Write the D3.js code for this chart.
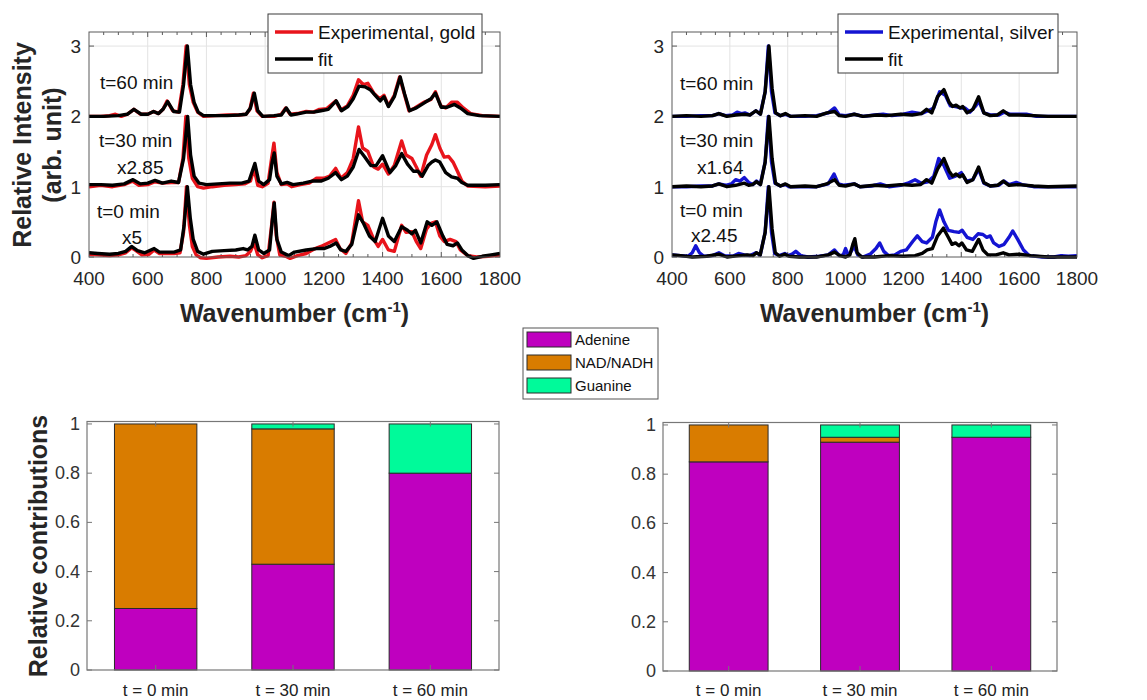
<!DOCTYPE html>
<html>
<head>
<meta charset="utf-8">
<script src="https://cdn.jsdelivr.net/npm/d3@7"></script>
<style>
  html, body { margin: 0; padding: 0; background: #fff; }
  svg { display: block; font-family: "Liberation Sans", Arial, Helvetica, sans-serif; }
</style>
</head>
<body>
<div id="root"></div>
<script>
// ---- data (values above each trace's baseline) ----
const offsets = [0, 1, 2];
const timeLabels = ["t=0 min", "t=30 min", "t=60 min"];
const goldFactors = ["x5", "x2.85", ""];
const silverFactors = ["x2.45", "x1.64", ""];
const xTicks = [400, 600, 800, 1000, 1200, 1400, 1600, 1800];
const yTicks = [0, 1, 2, 3];

const goldExp0 = [[400,0.04],[430,0.03],[470,0.02],[500,0.03],[525,0.06],[545,0.13],[560,0.09],[580,0.03],[605,0.04],[622,0.1],[640,0.05],[665,0.05],[690,0.05],[710,0.06],[722,0.35],[732,1.0],[742,0.45],[752,0.15],[765,0.03],[780,-0.01],[800,-0.02],[840,0.0],[880,0.01],[910,0.0],[935,0.02],[950,0.08],[962,0.2],[975,0.03],[990,-0.01],[1010,0.02],[1022,0.45],[1030,0.78],[1038,0.3],[1050,0.03],[1070,0.01],[1085,-0.02],[1110,0.02],[1140,0.05],[1170,0.12],[1190,0.15],[1215,0.2],[1240,0.25],[1255,0.12],[1275,0.05],[1295,0.2],[1318,0.8],[1332,0.5],[1350,0.45],[1370,0.25],[1385,0.15],[1400,0.25],[1420,0.1],[1440,0.08],[1465,0.45],[1480,0.35],[1500,0.36],[1515,0.22],[1530,0.12],[1550,0.4],[1565,0.48],[1580,0.5],[1595,0.3],[1610,0.22],[1630,0.25],[1650,0.22],[1665,0.1],[1690,0.02],[1720,0.0],[1760,0.01],[1800,0.03]];
const goldFit0 = [[400,0.06],[430,0.05],[470,0.04],[500,0.05],[525,0.08],[545,0.15],[565,0.09],[590,0.06],[622,0.12],[640,0.07],[665,0.07],[690,0.07],[712,0.1],[724,0.45],[735,1.0],[745,0.55],[755,0.25],[770,0.08],[790,0.04],[820,0.08],[860,0.09],[900,0.1],[925,0.12],[940,0.1],[955,0.15],[965,0.31],[978,0.1],[995,0.05],[1015,0.1],[1024,0.5],[1031,0.77],[1040,0.25],[1055,0.07],[1080,0.02],[1100,0.07],[1140,0.1],[1175,0.12],[1200,0.12],[1220,0.15],[1242,0.2],[1258,0.1],[1275,0.08],[1295,0.18],[1318,0.6],[1335,0.48],[1355,0.3],[1375,0.22],[1400,0.55],[1420,0.3],[1440,0.22],[1465,0.43],[1485,0.38],[1500,0.33],[1512,0.38],[1530,0.2],[1552,0.5],[1568,0.45],[1585,0.5],[1605,0.3],[1620,0.18],[1640,0.16],[1655,0.2],[1670,0.1],[1690,0.02],[1710,-0.02],[1740,0.01],[1770,0.03],[1800,0.05]];
const goldExp30 = [[400,0.0],[440,0.02],[480,0.0],[520,0.03],[548,0.08],[570,0.02],[600,0.03],[625,0.07],[650,0.05],[680,0.06],[705,0.06],[720,0.4],[730,1.0],[740,0.4],[752,0.12],[770,0.0],[790,-0.02],[820,0.0],[860,0.02],[900,0.03],[930,0.04],[950,0.08],[962,0.26],[975,0.02],[990,0.0],[1010,0.05],[1022,0.4],[1030,0.62],[1040,0.2],[1055,0.03],[1075,0.04],[1090,0.0],[1120,0.03],[1150,0.05],[1175,0.12],[1200,0.12],[1220,0.15],[1240,0.26],[1258,0.12],[1280,0.2],[1300,0.4],[1318,0.85],[1332,0.55],[1350,0.5],[1370,0.28],[1385,0.25],[1400,0.32],[1420,0.18],[1440,0.3],[1465,0.65],[1480,0.45],[1500,0.4],[1515,0.28],[1530,0.15],[1550,0.45],[1568,0.6],[1580,0.74],[1595,0.55],[1610,0.42],[1625,0.43],[1640,0.35],[1655,0.22],[1670,0.08],[1690,0.01],[1750,0.0],[1800,0.01]];
const goldFit30 = [[400,0.03],[440,0.03],[480,0.02],[520,0.04],[550,0.1],[575,0.04],[600,0.05],[625,0.09],[650,0.05],[680,0.08],[705,0.06],[722,0.4],[736,1.0],[746,0.45],[758,0.15],[775,0.05],[800,0.03],[840,0.04],[880,0.05],[920,0.05],[945,0.08],[965,0.33],[978,0.08],[995,0.03],[1015,0.1],[1024,0.35],[1031,0.48],[1040,0.15],[1055,0.04],[1075,0.06],[1095,0.03],[1130,0.05],[1160,0.08],[1190,0.08],[1215,0.12],[1240,0.2],[1260,0.1],[1280,0.15],[1300,0.28],[1320,0.53],[1340,0.42],[1360,0.3],[1378,0.3],[1400,0.44],[1425,0.2],[1445,0.3],[1465,0.47],[1485,0.32],[1505,0.22],[1520,0.22],[1535,0.15],[1555,0.3],[1568,0.35],[1580,0.38],[1595,0.35],[1615,0.2],[1635,0.14],[1655,0.12],[1670,0.06],[1690,0.02],[1750,0.02],[1800,0.03]];
const goldExp60 = [[400,0.0],[440,0.0],[470,0.01],[490,0.03],[510,0.0],[530,0.03],[553,0.1],[575,0.03],[600,0.03],[620,0.07],[637,0.04],[652,0.1],[666,0.22],[685,0.08],[705,0.06],[720,0.45],[731,1.0],[742,0.45],[755,0.2],[770,0.06],[790,0.0],[830,0.01],[870,0.02],[910,0.02],[935,0.03],[948,0.1],[960,0.33],[972,0.08],[990,0.0],[1030,0.0],[1055,0.03],[1070,0.12],[1085,0.03],[1110,0.04],[1140,0.07],[1165,0.06],[1185,0.1],[1210,0.11],[1240,0.22],[1258,0.09],[1280,0.15],[1300,0.3],[1318,0.52],[1335,0.45],[1350,0.47],[1370,0.33],[1390,0.25],[1405,0.3],[1420,0.15],[1440,0.3],[1458,0.56],[1472,0.35],[1490,0.08],[1510,0.12],[1540,0.2],[1565,0.24],[1580,0.35],[1598,0.15],[1615,0.12],[1635,0.2],[1655,0.2],[1675,0.12],[1700,0.04],[1740,0.01],[1800,0.0]];
const goldFit60 = [[400,0.0],[450,0.0],[500,0.01],[530,0.03],[553,0.1],[578,0.03],[600,0.03],[620,0.07],[637,0.04],[652,0.1],[668,0.21],[688,0.07],[708,0.06],[722,0.45],[735,1.0],[746,0.45],[758,0.2],[772,0.06],[790,0.01],[830,0.01],[870,0.01],[910,0.02],[935,0.03],[950,0.12],[963,0.33],[975,0.08],[992,0.0],[1030,0.01],[1055,0.02],[1072,0.12],[1088,0.02],[1115,0.04],[1140,0.06],[1165,0.06],[1190,0.08],[1215,0.1],[1242,0.22],[1260,0.08],[1282,0.14],[1300,0.25],[1320,0.43],[1340,0.42],[1358,0.38],[1375,0.3],[1392,0.22],[1405,0.28],[1420,0.14],[1440,0.28],[1460,0.56],[1475,0.32],[1492,0.08],[1515,0.12],[1545,0.2],[1565,0.25],[1580,0.33],[1600,0.13],[1620,0.13],[1645,0.17],[1665,0.12],[1690,0.04],[1730,0.01],[1800,0.0]];

const silverExp0 = [[400,0.03],[430,0.02],[455,0.01],[470,0.06],[482,0.16],[495,0.06],[510,0.01],[540,0.02],[562,0.06],[580,0.02],[610,0.01],[630,0.05],[650,0.03],[670,0.02],[690,0.06],[705,0.03],[722,0.35],[733,1.0],[744,0.35],[755,0.05],[770,0.02],[790,0.05],[800,0.02],[815,0.04],[828,0.08],[845,0.02],[870,0.0],[910,0.01],[940,0.03],[962,0.1],[978,0.02],[992,0.03],[1000,0.12],[1010,0.02],[1030,0.15],[1042,0.03],[1060,0.0],[1085,0.04],[1105,0.12],[1118,0.2],[1132,0.08],[1148,0.02],[1170,0.03],[1190,0.08],[1210,0.1],[1232,0.22],[1248,0.3],[1265,0.22],[1280,0.2],[1300,0.28],[1312,0.5],[1325,0.67],[1340,0.5],[1355,0.38],[1375,0.36],[1392,0.35],[1403,0.38],[1420,0.28],[1440,0.25],[1458,0.33],[1475,0.32],[1488,0.28],[1500,0.3],[1512,0.2],[1530,0.15],[1548,0.18],[1565,0.28],[1578,0.37],[1595,0.25],[1615,0.1],[1635,0.02],[1680,0.0],[1720,0.0],[1745,0.02],[1770,0.01],[1800,0.02]];
const silverFit0 = [[400,0.03],[430,0.02],[470,0.0],[520,0.01],[562,0.04],[590,0.0],[630,0.02],[660,0.03],[680,0.02],[692,0.06],[705,0.03],[722,0.35],[735,1.0],[746,0.4],[757,0.06],[772,0.01],[790,0.04],[805,0.01],[840,0.0],[900,0.0],[940,0.03],[962,0.07],[980,0.02],[1000,0.0],[1015,0.03],[1025,0.18],[1032,0.26],[1040,0.06],[1055,0.0],[1100,0.0],[1150,0.02],[1200,0.01],[1240,0.02],[1265,0.05],[1282,0.1],[1300,0.12],[1318,0.3],[1338,0.41],[1355,0.28],[1368,0.18],[1380,0.2],[1392,0.16],[1402,0.2],[1418,0.1],[1438,0.08],[1460,0.25],[1475,0.1],[1492,0.03],[1520,0.03],[1545,0.06],[1565,0.03],[1600,0.04],[1640,0.02],[1700,0.0],[1800,0.0]];
const silverExp30 = [[400,0.0],[450,0.0],[500,0.01],[540,0.01],[562,0.04],[585,0.02],[605,0.04],[620,0.1],[635,0.08],[650,0.13],[665,0.06],[680,0.03],[692,0.08],[705,0.03],[722,0.35],[733,1.0],[744,0.35],[756,0.05],[775,0.01],[792,0.03],[805,0.0],[850,0.0],[900,0.0],[940,0.04],[960,0.18],[975,0.04],[995,0.02],[1030,0.04],[1050,0.0],[1090,0.01],[1120,0.04],[1150,0.0],[1190,0.02],[1215,0.05],[1240,0.1],[1262,0.05],[1285,0.07],[1305,0.15],[1322,0.4],[1340,0.3],[1360,0.12],[1380,0.15],[1400,0.2],[1418,0.08],[1440,0.1],[1460,0.25],[1478,0.05],[1500,0.01],[1530,0.02],[1548,0.08],[1565,0.03],[1590,0.06],[1610,0.03],[1650,0.0],[1700,0.0],[1800,0.0]];
const silverFit30 = [[400,0.0],[450,0.01],[500,0.0],[540,0.01],[562,0.04],[590,0.0],[620,0.02],[650,0.05],[665,0.02],[678,0.03],[692,0.07],[706,0.03],[722,0.35],[735,1.0],[746,0.4],[758,0.05],[775,0.01],[792,0.04],[810,0.0],[860,0.01],[900,0.0],[935,0.04],[962,0.1],[978,0.02],[1000,0.01],[1030,0.04],[1050,0.0],[1100,0.02],[1140,0.01],[1190,0.03],[1230,0.02],[1260,0.03],[1280,0.1],[1298,0.05],[1318,0.25],[1340,0.4],[1358,0.22],[1370,0.15],[1382,0.18],[1395,0.14],[1405,0.17],[1420,0.06],[1440,0.1],[1460,0.28],[1478,0.06],[1500,0.01],[1525,0.02],[1545,0.08],[1565,0.02],[1600,0.03],[1650,0.01],[1700,0.0],[1800,0.01]];
const silverExp60 = [[400,0.0],[450,0.0],[500,0.01],[540,0.01],[562,0.04],[585,0.01],[610,0.02],[625,0.06],[640,0.04],[652,0.05],[670,0.02],[690,0.08],[705,0.03],[722,0.35],[733,1.0],[744,0.35],[756,0.05],[775,0.01],[792,0.03],[810,0.0],[860,0.0],[900,0.01],[940,0.05],[962,0.12],[978,0.02],[1000,0.01],[1030,0.03],[1060,0.0],[1100,0.02],[1130,0.03],[1160,0.01],[1200,0.03],[1230,0.06],[1262,0.04],[1285,0.08],[1305,0.12],[1325,0.35],[1345,0.3],[1362,0.15],[1380,0.14],[1398,0.12],[1412,0.12],[1430,0.06],[1450,0.15],[1460,0.22],[1478,0.05],[1500,0.02],[1530,0.02],[1548,0.06],[1570,0.03],[1600,0.03],[1625,0.03],[1660,0.0],[1720,0.0],[1800,0.0]];
const silverFit60 = [[400,0.0],[450,0.01],[500,0.0],[540,0.01],[562,0.04],[590,0.0],[620,0.02],[650,0.03],[670,0.02],[690,0.08],[706,0.03],[722,0.35],[735,1.0],[746,0.4],[758,0.05],[775,0.01],[792,0.04],[810,0.0],[860,0.01],[900,0.0],[935,0.05],[962,0.07],[978,0.01],[1000,0.0],[1030,0.03],[1060,0.0],[1110,0.02],[1140,0.01],[1190,0.03],[1230,0.02],[1262,0.04],[1280,0.1],[1298,0.05],[1318,0.28],[1340,0.38],[1358,0.2],[1370,0.14],[1382,0.16],[1395,0.12],[1405,0.14],[1420,0.05],[1440,0.1],[1460,0.28],[1478,0.05],[1500,0.01],[1525,0.02],[1545,0.08],[1565,0.02],[1600,0.02],[1650,0.01],[1700,0.0],[1800,0.0]];

// bar chart data
const categories = ["t = 0 min", "t = 30 min", "t = 60 min"];
const components = ["Adenine", "NAD/NADH", "Guanine"];
const componentColors = ["#bf00bf", "#d97c00", "#00fa9a"];
const goldAdenine = [0.25, 0.43, 0.80];
const goldNad = [0.75, 0.55, 0.0];
const goldGuanine = [0.0, 0.02, 0.20];
const silverAdenine = [0.85, 0.93, 0.95];
const silverNad = [0.15, 0.02, 0.0];
const silverGuanine = [0.0, 0.05, 0.05];
const barTicks = [0, 0.2, 0.4, 0.6, 0.8, 1];

const W = 1147, H = 700;
const svg = d3.select("#root").append("svg")
  .attr("width", W).attr("height", H);

const axisColor = "#5a5a5a";
const textColor = "#262626";

// ---- spectra panels ----
const drawSpectra = (opt) => {
  const x = d3.scaleLinear().domain([400, 1800]).range([opt.left, opt.right]);
  const y = d3.scaleLinear().domain([0, 3.2]).range([257, 32]);
  const g = svg.append("g");

  // grid
  g.append("g").selectAll("line").data(xTicks.slice(1, -1)).join("line")
    .attr("x1", d => x(d)).attr("x2", d => x(d))
    .attr("y1", y(0)).attr("y2", y(3.2))
    .attr("stroke", "#e3e3e3").attr("stroke-width", 1);
  g.append("g").selectAll("line").data(yTicks.slice(1)).join("line")
    .attr("x1", x(400)).attr("x2", x(1800))
    .attr("y1", d => y(d)).attr("y2", d => y(d))
    .attr("stroke", "#e3e3e3").attr("stroke-width", 1);

  // minor / major ticks, top & bottom
  const xTickAll = d3.range(450, 1800, 50);
  [y(0), y(3.2)].forEach((yy, k) => {
    const dir = k === 0 ? -1 : 1;
    g.append("g").selectAll("line").data(xTickAll).join("line")
      .attr("x1", d => x(d)).attr("x2", d => x(d))
      .attr("y1", yy)
      .attr("y2", d => yy + dir * (xTicks.includes(d) ? 5 : 3))
      .attr("stroke", axisColor).attr("stroke-width", 1);
  });
  [x(400), x(1800)].forEach((xx, k) => {
    const dir = k === 0 ? 1 : -1;
    g.append("g").selectAll("line").data(yTicks).join("line")
      .attr("x1", xx).attr("x2", xx + dir * 5)
      .attr("y1", d => y(d)).attr("y2", d => y(d))
      .attr("stroke", axisColor).attr("stroke-width", 1);
  });

  const line = d3.line()
    .x(d => x(d[0]))
    .y(d => d[1]);

  const clip = "clip" + opt.id;
  g.append("clipPath").attr("id", clip).append("rect")
    .attr("x", x(400)).attr("y", y(3.2))
    .attr("width", x(1800) - x(400)).attr("height", y(0) - y(3.2) + 4);
  const lines = g.append("g").attr("clip-path", `url(#${clip})`);

  // experimental first, fit drawn on top
  offsets.forEach((off, i) => {
    const toPx = arr => arr.map(p => [p[0], y(p[1] + off)]);
    lines.append("path").datum(toPx(opt.exp[i]))
      .attr("d", line).attr("fill", "none")
      .attr("stroke", opt.color).attr("stroke-width", 3.4)
      .attr("stroke-linejoin", "round");
    lines.append("path").datum(toPx(opt.fit[i]))
      .attr("d", line).attr("fill", "none")
      .attr("stroke", "#000").attr("stroke-width", 3.4)
      .attr("stroke-linejoin", "round");
  });

  // box
  g.append("rect")
    .attr("x", x(400)).attr("y", y(3.2))
    .attr("width", x(1800) - x(400)).attr("height", y(0) - y(3.2))
    .attr("fill", "none").attr("stroke", axisColor).attr("stroke-width", 1);

  // tick labels
  g.append("g").selectAll("text").data(xTicks).join("text")
    .attr("x", d => x(d)).attr("y", 285)
    .attr("text-anchor", "middle").attr("font-size", 19).attr("fill", textColor)
    .text(d => d);
  g.append("g").selectAll("text").data(yTicks).join("text")
    .attr("x", x(400) - 8).attr("y", d => y(d) + 7)
    .attr("text-anchor", "end").attr("font-size", 19).attr("fill", textColor)
    .text(d => d);

  // x label
  const xl = g.append("text")
    .attr("x", (x(400) + x(1800)) / 2).attr("y", 322)
    .attr("text-anchor", "middle").attr("font-size", 25).attr("font-weight", "bold")
    .attr("fill", textColor);
  xl.append("tspan").text("Wavenumber (cm");
  xl.append("tspan").attr("dy", -10).attr("font-size", 15).text("-1");
  xl.append("tspan").attr("dy", 10).text(")");

  // annotations
  opt.labels.forEach(a => {
    g.append("text").attr("x", a.x).attr("y", a.y)
      .attr("font-size", 19).attr("fill", "#111").text(a.t);
  });

  // legend
  const lg = g.append("g");
  lg.append("rect").attr("x", opt.legend.x).attr("y", 14)
    .attr("width", opt.legend.w).attr("height", 59)
    .attr("fill", "#fff").attr("stroke", "#3a3a3a").attr("stroke-width", 1);
  [[opt.color, opt.legend.name, 32], ["#000", "fit", 59]].forEach(r => {
    lg.append("line")
      .attr("x1", opt.legend.x + 7).attr("x2", opt.legend.x + 45)
      .attr("y1", r[2]).attr("y2", r[2])
      .attr("stroke", r[0]).attr("stroke-width", 3.4);
    lg.append("text")
      .attr("x", opt.legend.x + 50).attr("y", r[2] + 7)
      .attr("font-size", 19).attr("fill", "#111").text(r[1]);
  });
};

drawSpectra({
  id: "gold", left: 89, right: 500, color: "#e8141b",
  exp: [goldExp0, goldExp30, goldExp60],
  fit: [goldFit0, goldFit30, goldFit60],
  legend: { x: 268, w: 214, name: "Experimental, gold" },
  labels: [
    { x: 100, y: 89, t: timeLabels[2] },
    { x: 99, y: 147, t: timeLabels[1] },
    { x: 117, y: 174, t: goldFactors[1] },
    { x: 97, y: 218, t: timeLabels[0] },
    { x: 122, y: 244, t: goldFactors[0] }
  ]
});

drawSpectra({
  id: "silver", left: 672, right: 1077, color: "#1414d2",
  exp: [silverExp0, silverExp30, silverExp60],
  fit: [silverFit0, silverFit30, silverFit60],
  legend: { x: 838, w: 220, name: "Experimental, silver" },
  labels: [
    { x: 680, y: 90, t: timeLabels[2] },
    { x: 680, y: 147, t: timeLabels[1] },
    { x: 697, y: 174, t: silverFactors[1] },
    { x: 680, y: 217, t: timeLabels[0] },
    { x: 691, y: 242, t: silverFactors[0] }
  ]
});

// y label for top panels
svg.append("text")
  .attr("transform", "translate(31,145) rotate(-90)")
  .attr("text-anchor", "middle").attr("font-size", 25).attr("font-weight", "bold")
  .attr("fill", textColor).text("Relative Intensity");
svg.append("text")
  .attr("transform", "translate(61,145) rotate(-90)")
  .attr("text-anchor", "middle").attr("font-size", 25).attr("font-weight", "bold")
  .attr("fill", textColor).text("(arb. unit)");

// ---- stacked bar panels ----
const drawBars = (opt) => {
  const table = categories.map((c, i) => ({
    cat: c,
    "Adenine": opt.adenine[i],
    "NAD/NADH": opt.nad[i],
    "Guanine": opt.guanine[i]
  }));
  const series = d3.stack().keys(components)(table);
  const x = d3.scaleLinear().domain([0.5, 3.5]).range([opt.left, opt.right]);
  const y = d3.scaleLinear().domain([0, 1.01]).range([opt.bottom, opt.bottom - 248.5]);
  const bw = 0.6;
  const g = svg.append("g");

  series.forEach((s, k) => {
    g.append("g").selectAll("rect").data(s).join("rect")
      .attr("x", (d, i) => x(i + 1 - bw / 2))
      .attr("width", x(1 + bw) - x(1))
      .attr("y", d => y(d[1]))
      .attr("height", d => y(d[0]) - y(d[1]))
      .attr("fill", componentColors[k])
      .attr("stroke", "#2a2a2a").attr("stroke-width", 1);
  });

  // box
  g.append("rect")
    .attr("x", x(0.5)).attr("y", y(1.01))
    .attr("width", x(3.5) - x(0.5)).attr("height", y(0) - y(1.01))
    .attr("fill", "none").attr("stroke", "#777").attr("stroke-width", 1.2);

  // ticks
  [x(0.5), x(3.5)].forEach((xx, k) => {
    const dir = k === 0 ? 1 : -1;
    g.append("g").selectAll("line").data(barTicks).join("line")
      .attr("x1", xx).attr("x2", xx + dir * 5)
      .attr("y1", d => y(d)).attr("y2", d => y(d))
      .attr("stroke", "#777");
  });
  [y(0), y(1.01)].forEach((yy, k) => {
    const dir = k === 0 ? -1 : 1;
    g.append("g").selectAll("line").data([1, 2, 3]).join("line")
      .attr("x1", d => x(d)).attr("x2", d => x(d))
      .attr("y1", yy).attr("y2", yy + dir * 5)
      .attr("stroke", "#777");
  });

  g.append("g").selectAll("text").data(barTicks).join("text")
    .attr("x", x(0.5) - 7).attr("y", d => y(d) + 6)
    .attr("text-anchor", "end").attr("font-size", 18).attr("fill", "#333")
    .text(d => d);
  g.append("g").selectAll("text").data(categories).join("text")
    .attr("x", (d, i) => x(i + 1)).attr("y", 696)
    .attr("text-anchor", "middle").attr("font-size", 17).attr("fill", "#222")
    .text(d => d);
};

drawBars({ left: 87, right: 499, bottom: 670,
  adenine: goldAdenine, nad: goldNad, guanine: goldGuanine });
drawBars({ left: 663, right: 1057, bottom: 671,
  adenine: silverAdenine, nad: silverNad, guanine: silverGuanine });

svg.append("text")
  .attr("transform", "translate(47,546) rotate(-90)")
  .attr("text-anchor", "middle").attr("font-size", 25).attr("font-weight", "bold")
  .attr("fill", textColor).text("Relative contributions");

// bar legend
const bl = svg.append("g");
bl.append("rect").attr("x", 523).attr("y", 328).attr("width", 135).attr("height", 71)
  .attr("fill", "#fff").attr("stroke", "#555");
components.forEach((c, i) => {
  bl.append("rect").attr("x", 527).attr("y", 332 + i * 23)
    .attr("width", 44).attr("height", 15)
    .attr("fill", componentColors[i]).attr("stroke", "#2a2a2a");
  bl.append("text").attr("x", 575).attr("y", 345 + i * 23)
    .attr("font-size", 15).attr("fill", "#111").text(c);
});
</script>
</body>
</html>
